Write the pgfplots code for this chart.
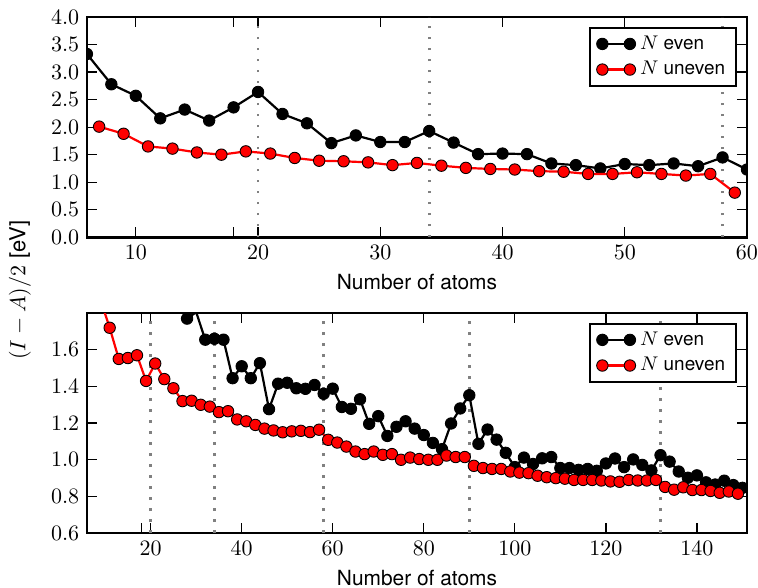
\documentclass[border=0pt]{standalone}
\usepackage[no-math]{fontspec}
\setsansfont{TeX Gyre Heros}
\usepackage{pgfplots}
\usepackage{pgfplotstable}
\pgfplotsset{compat=1.18}
\definecolor{vgray}{RGB}{128,128,128}

\pgfplotstableread{
N y
6 3.33
8 2.78
10 2.57
12 2.16
14 2.32
16 2.12
18 2.36
20 2.64
22 2.24
24 2.07
26 1.71
28 1.85
30 1.73
32 1.73
34 1.93
36 1.72
38 1.51
40 1.52
42 1.51
44 1.34
46 1.31
48 1.25
50 1.33
52 1.31
54 1.34
56 1.29
58 1.45
60 1.23
}\topeven

\pgfplotstableread{
N y
7 2.01
9 1.88
11 1.65
13 1.61
15 1.54
17 1.50
19 1.56
21 1.52
23 1.44
25 1.39
27 1.38
29 1.36
31 1.31
33 1.35
35 1.30
37 1.26
39 1.24
41 1.23
43 1.20
45 1.19
47 1.15
49 1.15
51 1.18
53 1.15
55 1.12
57 1.15
59 0.81
}\topodd

\pgfplotstableread{
N y
28 1.77
30 1.805
32 1.655
34 1.66
36 1.655
38 1.445
40 1.51
42 1.445
44 1.527
46 1.276
48 1.415
50 1.42
52 1.39
54 1.387
56 1.408
58 1.36
60 1.388
62 1.288
64 1.278
66 1.33
68 1.196
70 1.238
72 1.13
74 1.18
76 1.21
78 1.17
80 1.135
82 1.092
84 1.058
86 1.198
88 1.28
90 1.352
92 1.087
94 1.165
96 1.11
98 1.038
100 0.96
102 1.012
104 0.977
106 1.008
108 1.015
110 0.955
112 0.955
114 0.945
116 0.95
118 0.94
120 0.98
122 1.007
124 0.96
126 1.002
128 0.972
130 0.942
132 1.025
134 0.99
136 0.936
138 0.902
140 0.915
142 0.877
144 0.865
146 0.886
148 0.862
150 0.847
}\boteven

\pgfplotstableread{
N y
7 2.01
9 1.87
11 1.72
13 1.55
15 1.555
17 1.57
19 1.43
21 1.525
23 1.44
25 1.39
27 1.32
29 1.322
31 1.30
33 1.29
35 1.26
37 1.265
39 1.22
41 1.21
43 1.19
45 1.17
47 1.16
49 1.15
51 1.155
53 1.158
55 1.151
57 1.164
59 1.109
61 1.094
63 1.072
65 1.045
67 1.031
69 1.045
71 1.027
73 1.031
75 1.0
77 1.012
79 1.004
81 1.0
83 1.0
85 1.023
87 1.015
89 1.015
91 0.967
93 0.955
95 0.95
97 0.95
99 0.936
101 0.93
103 0.927
105 0.913
107 0.905
109 0.90
111 0.897
113 0.89
115 0.89
117 0.89
119 0.887
121 0.882
123 0.88
125 0.89
127 0.887
129 0.887
131 0.89
133 0.852
135 0.837
137 0.85
139 0.835
141 0.835
143 0.83
145 0.82
147 0.827
149 0.815
}\botodd

\pgfplotsset{
  legend image code/.code={\draw[#1] plot coordinates {(0cm,0cm) (0.44cm,0cm)};},
  mystyle/.style={
    scale only axis, width=300pt, height=100pt,
    axis line style={line width=1.2pt},
    every tick/.style={line width=0.6pt, black},
    major tick length=4.5pt,
    tick align=inside,
    tick pos=both,
    clip marker paths=true,
    xlabel style={font=\sffamily\fontsize{9.5}{11}\selectfont},
    xlabel={Number of atoms},
    extra x ticks={18}, extra x tick labels={},
    yticklabel style={/pgf/number format/.cd, fixed, fixed zerofill, precision=1},
    legend style={at={(rel axis cs:0.985,0.956)}, anchor=north east, draw=black, line width=0.9pt,
      font=\sffamily\fontsize{8.6}{10}\selectfont, cells={anchor=west}, row sep=0pt,
      inner ysep=1.5pt},
  },
  evenp/.style={black, line width=1pt, mark=*, mark size=2.6pt, mark options={fill=black, draw=black, line width=0.4pt, solid}},
  oddp/.style={red, line width=1pt, mark=*, mark size=2.6pt, mark options={fill=red, draw=black, line width=0.4pt, solid}},
  vline/.style={vgray, line width=1.3pt, dash pattern=on 1.2pt off 3.8pt, forget plot},
}

\begin{document}
\begin{tikzpicture}
\begin{axis}[mystyle, name=top, at={(0,134.5pt)}, anchor=south west,
  xmin=6, xmax=60, ymin=0, ymax=4,
  xtick={10,20,30,40,50,60},
  ytick={0,0.5,...,4.0}]
\addplot[vline] coordinates {(20,0) (20,4)};
\addplot[vline] coordinates {(34,0) (34,4)};
\addplot[vline] coordinates {(58,0) (58,4)};
\addplot[evenp] table[x=N,y=y] {\topeven};
\addlegendentry{$N$ even}
\addplot[oddp] table[x=N,y=y] {\topodd};
\addlegendentry{$N$ uneven}
\end{axis}
\begin{axis}[mystyle, name=bot, at={(0,0)}, anchor=south west,
  xmin=6, xmax=151, ymin=0.6, ymax=1.8,
  xtick={20,40,...,140},
  ytick={0.6,0.8,1.0,1.2,1.4,1.6}]
\addplot[vline] coordinates {(20,0.6) (20,1.8)};
\addplot[vline] coordinates {(34,0.6) (34,1.8)};
\addplot[vline] coordinates {(58,0.6) (58,1.8)};
\addplot[vline] coordinates {(90,0.6) (90,1.8)};
\addplot[vline] coordinates {(132,0.6) (132,1.8)};
\addplot[evenp] table[x=N,y=y] {\boteven};
\addlegendentry{$N$ even}
\addplot[oddp] table[x=N,y=y] {\botodd};
\addlegendentry{$N$ uneven}
\end{axis}
\node[rotate=90, font=\fontsize{10}{12}\selectfont] at (-30.5pt,110.5pt) {$(I-A)/2$ \textsf{[eV]}};
\pgfresetboundingbox
\path[use as bounding box] (-39.5pt,-24.5pt) rectangle (305pt,242.3pt);
\end{tikzpicture}
\end{document}
